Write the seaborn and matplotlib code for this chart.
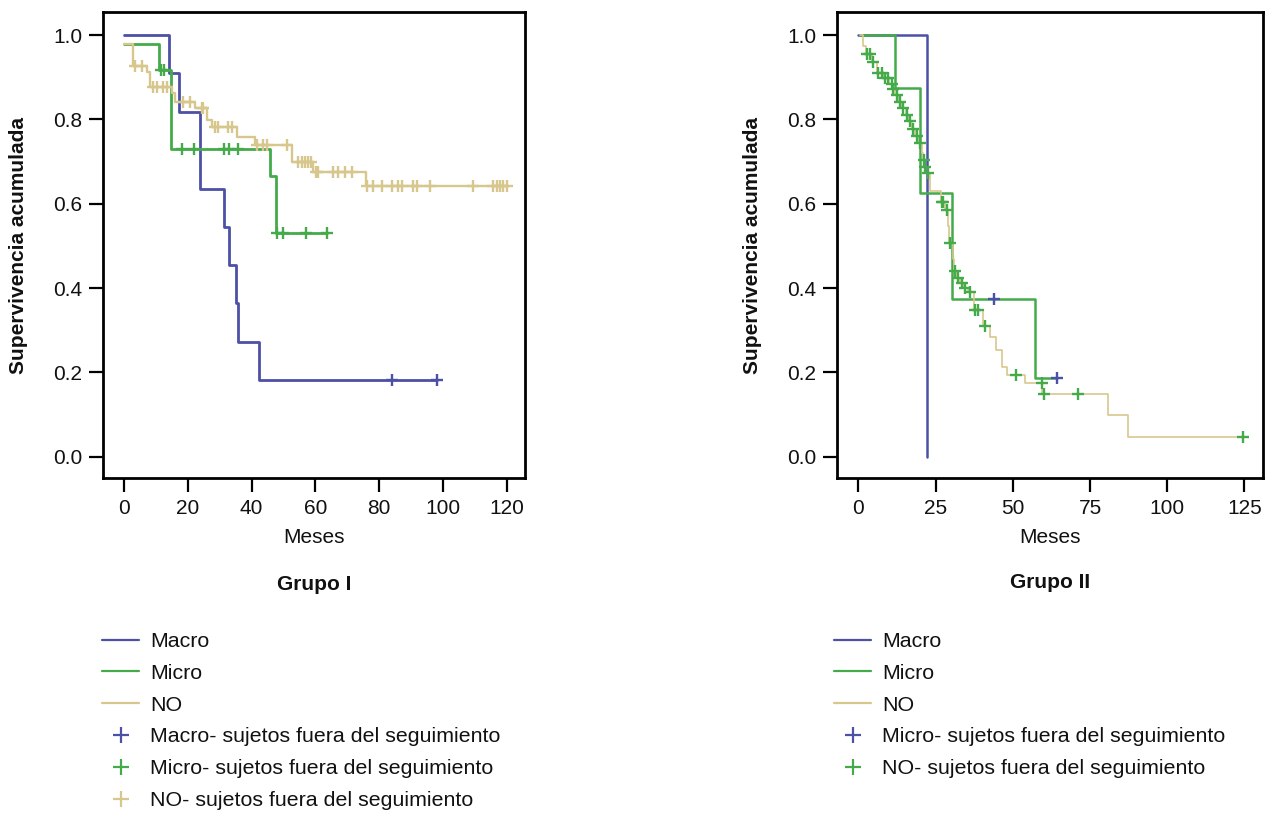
import numpy as np
import matplotlib
matplotlib.use("Agg")
import matplotlib.pyplot as plt
from matplotlib.lines import Line2D
import seaborn as sns

# ---------------- data ----------------
# Grupo I
g1_macro_t = [0, 14.1, 17.2, 23.8, 31.3, 32.9, 35.0, 35.7, 42.3, 98.0]
g1_macro_s = [1.0, 0.909, 0.818, 0.636, 0.545, 0.455, 0.364, 0.273, 0.182, 0.182]
g1_macro_cens = [83.9, 98.0]

g1_micro_t = [0, 11.0, 14.7, 45.8, 47.6, 63.5]
g1_micro_s = [0.978, 0.917, 0.730, 0.666, 0.530, 0.530]
g1_micro_cens = [11.6, 12.4, 18.1, 22.0, 31.3, 33.0, 35.8, 47.9, 49.7, 57.1, 63.5]

g1_no_t = [0, 2.9, 7.1, 8.2, 15.0, 16.0, 22.3, 25.9, 27.5, 35.3, 41.1, 52.6, 59.3, 75.8, 120.0]
g1_no_s = [0.978, 0.927, 0.913, 0.877, 0.862, 0.842, 0.826, 0.798, 0.783, 0.757, 0.739,
           0.700, 0.676, 0.643, 0.643]
g1_no_cens = [3.4, 5.5, 9.2, 10.3, 12.1, 13.4, 18.6, 20.7, 24.4, 24.9, 28.5, 29.6, 32.7, 33.8,
              41.6, 43.7, 44.7, 51.0, 54.6, 55.7, 56.7, 57.8, 58.5, 60.2, 60.9, 65.6, 67.2,
              69.3, 71.4, 76.2, 78.0, 80.8, 83.9, 86.0, 87.0, 90.7, 91.8, 95.9, 109.5, 115.8,
              116.8, 117.9, 118.9, 120.0]

# Grupo II
g2_macro_t = [0, 22.3]
g2_macro_s = [1.0, 0.0]

g2_micro_t = [0.5, 11.9, 20.0, 30.3, 57.2, 64.2]
g2_micro_s = [1.0, 0.875, 0.625, 0.375, 0.1875, 0.1875]
g2_micro_cens = [43.8, 64.2]

g2_no_t = [0.5, 1.5, 2.5, 4.5, 6.0, 8.0, 10.0, 11.0, 12.0, 13.0,
           14.2, 15.3, 16.3, 17.3, 18.5, 19.5, 20.5, 21.0, 21.5, 22.5,
           23.3, 26.8, 28.2, 29.0, 29.5, 30.5, 31.0, 32.0, 33.0, 34.0,
           35.5, 37.5, 40.5, 42.5, 44.5, 46.5, 48.0, 53.9, 59.5, 80.9,
           87.3, 124.4]
g2_no_s = [1.0, 0.975, 0.955, 0.935, 0.91, 0.897, 0.885, 0.873, 0.858, 0.842,
           0.826, 0.81, 0.795, 0.778, 0.76, 0.744, 0.72, 0.704, 0.688, 0.672,
           0.63, 0.605, 0.585, 0.546, 0.506, 0.47, 0.44, 0.423, 0.411, 0.399,
           0.39, 0.348, 0.309, 0.285, 0.253, 0.213, 0.194, 0.174, 0.149, 0.099,
           0.047, 0.047]
g2_no_cens = [2.7, 3.8, 4.9, 6.5, 7.6, 8.6, 9.7, 10.8, 11.3, 12.4, 13.5, 14.6, 15.7, 16.7,
              17.8, 18.9, 20.0, 21.2, 21.7, 22.7, 27.0, 27.5, 28.6, 29.7, 31.3, 32.4, 33.5,
              34.5, 36.1, 37.8, 38.8, 41.0, 51.2, 59.3, 60.2, 71.2, 124.4]

legend1_labels = ["Macro", "Micro", "NO",
                  "Macro- sujetos fuera del seguimiento",
                  "Micro- sujetos fuera del seguimiento",
                  "NO- sujetos fuera del seguimiento"]
legend2_labels = ["Macro", "Micro", "NO",
                  "Micro- sujetos fuera del seguimiento",
                  "NO- sujetos fuera del seguimiento"]

BLUE = "#4c51a6"
GREEN = "#44aa4a"
TAN = "#d8c78c"

# ---------------- style ----------------
sns.set_style("white")
plt.rcParams["font.family"] = ["Liberation Sans", "DejaVu Sans"]
plt.rcParams["text.color"] = "#111111"
plt.rcParams["axes.labelcolor"] = "#111111"
FS = 15
LFS = 15.4

fig = plt.figure(figsize=(12.71, 8.14), dpi=100)
ax1 = fig.add_axes([0.08104, 0.41241, 0.33202, 0.57224])
ax2 = fig.add_axes([0.65877, 0.41241, 0.33494, 0.57224])


def surv_at(t, s, c):
    t = np.asarray(t)
    s = np.asarray(s)
    idx = np.searchsorted(t, np.asarray(c), side="right") - 1
    return s[idx]


def curve(ax, t, s, color, lw):
    sns.lineplot(x=t, y=s, drawstyle="steps-post", color=color, lw=lw,
                 estimator=None, sort=False, ax=ax, legend=False)


def cens(ax, t, s, c, color):
    sns.scatterplot(x=c, y=surv_at(t, s, c), marker="+", s=75, color=color,
                    linewidth=1.7, ax=ax, legend=False, zorder=5)


# Grupo I
curve(ax1, g1_macro_t, g1_macro_s, BLUE, 2.0)
curve(ax1, g1_micro_t, g1_micro_s, GREEN, 2.0)
curve(ax1, g1_no_t, g1_no_s, TAN, 1.7)
cens(ax1, g1_macro_t, g1_macro_s, g1_macro_cens, BLUE)
cens(ax1, g1_micro_t, g1_micro_s, g1_micro_cens, GREEN)
cens(ax1, g1_no_t, g1_no_s, g1_no_cens, TAN)

# Grupo II
curve(ax2, g2_macro_t, g2_macro_s, BLUE, 1.8)
curve(ax2, g2_micro_t, g2_micro_s, GREEN, 1.8)
curve(ax2, g2_no_t, g2_no_s, TAN, 1.2)
cens(ax2, g2_micro_t, g2_micro_s, g2_micro_cens, BLUE)
cens(ax2, g2_no_t, g2_no_s, g2_no_cens, GREEN)

for ax, xt, xl in [(ax1, [0, 20, 40, 60, 80, 100, 120], (-6.6, 125.7)),
                   (ax2, [0, 25, 50, 75, 100, 125], (-6.8, 131.0))]:
    ax.set_xlim(*xl)
    ax.set_ylim(-0.0512, 1.0534)
    ax.set_xticks(xt)
    ax.set_yticks([0.0, 0.2, 0.4, 0.6, 0.8, 1.0])
    ax.set_yticklabels(["0.0", "0.2", "0.4", "0.6", "0.8", "1.0"])
    for sp in ax.spines.values():
        sp.set_visible(True)
        sp.set_color("black")
        sp.set_linewidth(2.0)
    ax.tick_params(axis="both", which="major", direction="out", length=10, width=1.6,
                   color="black", labelsize=FS, labelcolor="#111111", pad=5,
                   left=True, bottom=True, right=False, top=False)
    ax.set_xlabel("Meses", fontsize=FS, labelpad=7)
    ax.set_ylabel("Supervivencia acumulada", fontsize=FS, fontweight="bold")
    ax.yaxis.set_label_coords(-0.178, 0.5)
    ax.set_facecolor("white")

fig.text((103 + 525) / 2 / 1271, 1 - 585 / 814, "Grupo I", ha="center", va="center",
         fontsize=FS, fontweight="bold")
fig.text((837 + 1263) / 2 / 1271, 1 - 582 / 814, "Grupo II", ha="center", va="center",
         fontsize=FS, fontweight="bold")

# legends
def mk(color):
    return Line2D([], [], color=color, ls="none", marker="+", markersize=11,
                  markeredgewidth=1.6)


h1 = [Line2D([], [], color=BLUE, lw=1.6),
      Line2D([], [], color=GREEN, lw=1.6),
      Line2D([], [], color=TAN, lw=1.6),
      mk(BLUE), mk(GREEN), mk(TAN)]
h2 = [Line2D([], [], color=BLUE, lw=1.6),
      Line2D([], [], color=GREEN, lw=1.6),
      Line2D([], [], color=TAN, lw=1.6),
      mk(BLUE), mk(GREEN)]

fig.legend(h1, legend1_labels, loc="upper left", bbox_to_anchor=(102 / 1271, 1 - 632 / 814),
           frameon=False, fontsize=LFS, handlelength=1.75, handletextpad=0.5,
           labelspacing=0.6, borderpad=0, borderaxespad=0)
fig.legend(h2, legend2_labels, loc="upper left", bbox_to_anchor=(834 / 1271, 1 - 632 / 814),
           frameon=False, fontsize=LFS, handlelength=1.75, handletextpad=0.5,
           labelspacing=0.6, borderpad=0, borderaxespad=0)

fig.savefig("out.png", dpi=100, facecolor="white")
